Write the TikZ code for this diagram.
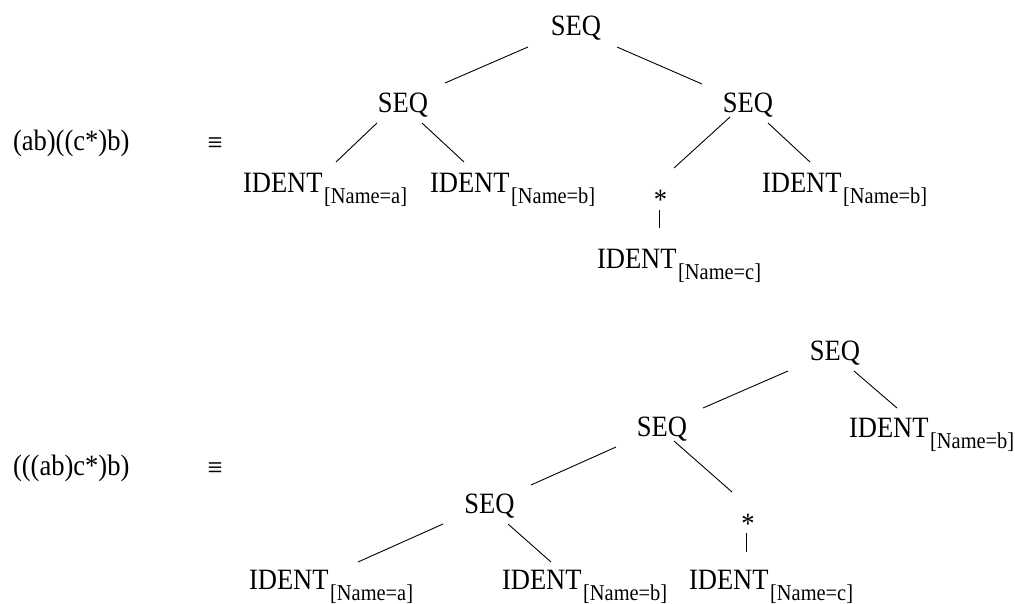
\documentclass[tikz,border=0pt]{standalone}
\usepackage{fontspec}
\setmainfont{Liberation Serif}[FakeStretch=0.9]
\usetikzlibrary{calc}
\newcommand\identsub[1]{IDENT\kern1.5pt\raisebox{-11pt}{\fontsize{22.7}{24}\selectfont[Name=#1]}}
\begin{document}
\begin{tikzpicture}[x=1pt,y=-1pt,
  every node/.style={inner sep=0pt,outer sep=0pt,font=\fontsize{29.5}{33}\selectfont},
  op/.style={anchor=base},
  leaf/.style={anchor=base west},
  edge/.style={draw=black,line width=0.9pt}]
\useasboundingbox (0,0) rectangle (1015,603);

% ---- top expression ----
\node[leaf] (lhsA) at (13,150) {(ab)((c*)b)};
\node[op] (eqA) at (215,152) {≡};
\node[op] (T0) at (576,35) {SEQ};
\node[op] (T1) at (403,112) {SEQ};
\node[op] (T2) at (748,112) {SEQ};
\node[leaf] (Ta) at (243,192) {\identsub{a}};
\node[leaf] (Tb) at (430,192) {\identsub{b}};
\node[op] (Ts) at (660.5,209) {*};
\node[leaf] (Tc) at (597,268) {\identsub{c}};
\node[leaf] (Tb2) at (762,192) {\identsub{b}};

\draw[edge] ($(T0.base)+(-48,12)$) -- ($(T1.base)+(42,-29)$);
\draw[edge] ($(T0.base)+(41,12)$) -- ($(T2.base)+(-46,-28)$);
\draw[edge] ($(T1.base)+(-26,11)$) -- ($(Ta.base west)+(93,-30)$);
\draw[edge] ($(T1.base)+(19,11)$) -- ($(Tb.base west)+(34,-30)$);
\draw[edge] ($(T2.base)+(-18,5)$) -- ($(Ts.base)+(13.5,-41)$);
\draw[edge] ($(T2.base)+(20,11)$) -- ($(Tb2.base west)+(48,-30)$);
\draw[edge] ($(Ts.base)+(-1.5,1)$) -- ($(Tc.base west)+(62,-40)$);

% ---- bottom expression ----
\node[leaf] (lhsB) at (13,475) {(((ab)c*)b)};
\node[op] (eqB) at (215,477) {≡};
\node[op] (B0) at (835,360) {SEQ};
\node[op] (B1) at (662,436) {SEQ};
\node[leaf] (Bb2) at (849,437) {\identsub{b}};
\node[op] (B3) at (489.5,513) {SEQ};
\node[op] (Bs) at (748,533) {*};
\node[leaf] (Ba) at (249,589) {\identsub{a}};
\node[leaf] (Bb) at (502,589) {\identsub{b}};
\node[leaf] (Bc) at (689,589) {\identsub{c}};

\draw[edge] ($(B0.base)+(-47,11)$) -- ($(B1.base)+(41,-28)$);
\draw[edge] ($(B0.base)+(19,11)$) -- ($(Bb2.base west)+(48,-29)$);
\draw[edge] ($(B1.base)+(-46,11)$) -- ($(B3.base)+(41.5,-28)$);
\draw[edge] ($(B1.base)+(12,5)$) -- ($(Bs.base)+(-16,-41)$);
\draw[edge] ($(B3.base)+(-46.5,11)$) -- ($(Ba.base west)+(109,-27)$);
\draw[edge] ($(B3.base)+(18.5,11)$) -- ($(Bb.base west)+(49,-27)$);
\draw[edge] ($(Bs.base)+(-2,0)$) -- ($(Bc.base west)+(57,-37)$);
\end{tikzpicture}
\end{document}
